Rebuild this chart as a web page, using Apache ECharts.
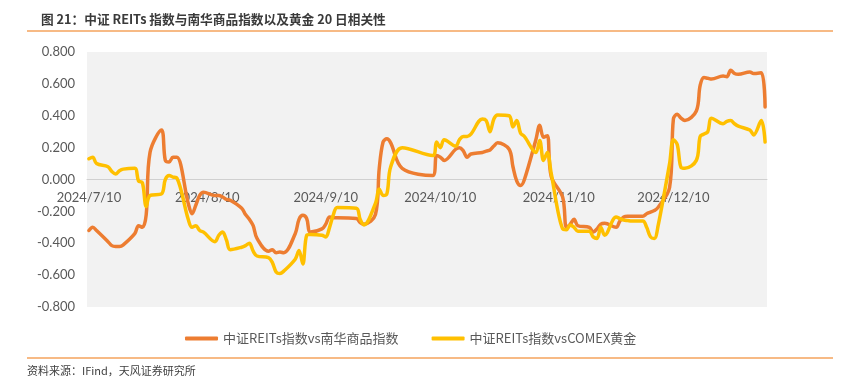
<!DOCTYPE html>
<html><head><meta charset="utf-8">
<script src="https://cdn.jsdelivr.net/npm/echarts@6/dist/echarts.min.js"></script>
<style>html,body{margin:0;padding:0;background:#fff;}#c{width:850px;height:382px;}</style>
</head><body><div id="c"></div>
<script>
const dates = [
'2024/7/10','2024/7/11','2024/7/12','2024/7/15','2024/7/16','2024/7/17','2024/7/18','2024/7/19','2024/7/22','2024/7/23','2024/7/24','2024/7/25','2024/7/26','2024/7/29','2024/7/30','2024/7/31',
'2024/8/1','2024/8/2','2024/8/5','2024/8/6','2024/8/7','2024/8/8','2024/8/9','2024/8/12','2024/8/13','2024/8/14','2024/8/15','2024/8/16','2024/8/19','2024/8/20','2024/8/21','2024/8/22','2024/8/23','2024/8/26','2024/8/27','2024/8/28','2024/8/29','2024/8/30',
'2024/9/2','2024/9/3','2024/9/4','2024/9/5','2024/9/6','2024/9/9','2024/9/10','2024/9/11','2024/9/12','2024/9/13','2024/9/18','2024/9/19','2024/9/20','2024/9/23','2024/9/24','2024/9/25','2024/9/26','2024/9/27','2024/9/30',
'2024/10/8','2024/10/9','2024/10/10','2024/10/11','2024/10/14','2024/10/15','2024/10/16','2024/10/17','2024/10/18','2024/10/21','2024/10/22','2024/10/23','2024/10/24','2024/10/25','2024/10/28','2024/10/29','2024/10/30','2024/10/31',
'2024/11/1','2024/11/4','2024/11/5','2024/11/6','2024/11/7','2024/11/8','2024/11/11','2024/11/12','2024/11/13','2024/11/14','2024/11/15','2024/11/18','2024/11/19','2024/11/20','2024/11/21','2024/11/22','2024/11/25','2024/11/26','2024/11/27','2024/11/28','2024/11/29',
'2024/12/2','2024/12/3','2024/12/4','2024/12/5','2024/12/6','2024/12/9','2024/12/10','2024/12/11','2024/12/12','2024/12/13','2024/12/16','2024/12/17','2024/12/18','2024/12/19','2024/12/20','2024/12/23','2024/12/24','2024/12/25','2024/12/26','2024/12/27','2024/12/30','2024/12/31',
'2025/1/2','2025/1/3'
];
const nanhua = [
-0.32,-0.30,-0.32,-0.39,-0.415,-0.42,-0.42,-0.41,-0.34,-0.29,-0.30,-0.22,0.17,0.31,0.12,0.11,
0.14,0.14,-0.15,-0.215,-0.16,-0.10,-0.08,-0.10,-0.10,-0.11,-0.125,-0.13,-0.18,-0.22,-0.25,-0.29,-0.37,-0.45,-0.44,-0.46,-0.455,-0.46,
-0.34,-0.25,-0.225,-0.245,-0.33,-0.31,-0.28,-0.235,-0.24,-0.24,-0.245,-0.27,-0.28,-0.22,0.07,0.235,0.255,0.23,0.07,
0.025,0.15,0.14,0.12,0.19,0.20,0.18,0.14,0.16,0.17,0.178,0.185,0.21,0.23,0.19,0.08,-0.01,-0.038,
0.0,0.25,0.34,0.265,0.275,0.02,-0.11,-0.30,-0.28,-0.25,-0.29,-0.30,-0.33,-0.31,-0.28,-0.275,-0.30,-0.26,-0.235,-0.23,-0.23,
-0.23,-0.215,-0.205,-0.195,-0.175,-0.05,0.38,0.41,0.385,0.37,0.43,0.59,0.64,0.635,0.63,0.65,0.645,0.685,0.665,0.66,0.675,0.665,
0.67,0.455
];
const comex = [
0.13,0.14,0.10,0.08,0.05,0.035,0.055,0.065,0.07,-0.01,-0.02,-0.17,-0.10,-0.09,0.0,0.025,
0.015,0.01,-0.25,-0.30,-0.29,-0.32,-0.33,-0.39,-0.35,-0.33,-0.38,-0.44,-0.425,-0.415,-0.40,-0.45,-0.48,-0.49,-0.52,-0.58,-0.59,-0.575,
-0.50,-0.445,-0.53,-0.35,-0.345,-0.35,-0.36,-0.30,-0.22,-0.175,-0.18,-0.25,-0.285,-0.15,-0.06,-0.10,-0.09,0.08,0.20,
0.15,0.235,0.20,0.25,0.21,0.25,0.27,0.27,0.285,0.38,0.37,0.30,0.38,0.405,0.40,0.33,0.37,0.29,
0.27,0.17,0.245,0.12,0.17,0.04,-0.31,-0.315,-0.285,-0.30,-0.325,-0.325,-0.36,-0.37,-0.30,-0.35,-0.235,-0.245,-0.255,-0.257,-0.26,
-0.26,-0.30,-0.36,-0.37,-0.29,0.10,0.25,0.22,0.075,0.07,0.12,0.27,0.285,0.30,0.385,0.35,0.365,0.37,0.35,0.335,0.31,0.28,
0.37,0.235
];
const xTickLabels = ['2024/7/10','2024/8/10','2024/9/10','2024/10/10','2024/11/10','2024/12/10'];
const seriesNames = ['中证REITs指数vs南华商品指数','中证REITs指数vsCOMEX黄金'];
const titleText = '图 21：中证 REITs 指数与南华商品指数以及黄金 20 日相关性';
const sourceText = '资料来源：IFind，天风证券研究所';

function ts(s){const p=s.split('/').map(Number);return new Date(p[0],p[1]-1,p[2]).getTime();}
const DAY = 86400000;
const xMin = ts(dates[0]) - DAY/2;
const xMax = ts(dates[dates.length-1]) + DAY/2;
const cjk = '"Noto Sans CJK SC", "Noto Sans", sans-serif';
const num = 'Lato, "Noto Sans", sans-serif';
const gridTop = 52, gridBottom = 75, chartH = 382;
const plotH = chartH - gridTop - gridBottom;
const yMin = -0.8, yMax = 0.8;
// shift the x axis so it sits on the value 0 of the y axis
const zeroOffset = -plotH * (0 - yMin) / (yMax - yMin);

const chart = echarts.init(document.getElementById('c'), null, {renderer:'canvas'});
chart.setOption({
  animation:false,
  backgroundColor:'#ffffff',
  title:{text:titleText,left:36,top:8,textStyle:{fontFamily:cjk,fontSize:12.7,fontWeight:'bold',color:'#3a3a3a'}},
  grid:{left:87,right:83,top:gridTop,bottom:gridBottom,show:true,backgroundColor:'#f2f2f2',borderWidth:0,containLabel:false},
  legend:{left:180,top:327,itemGap:33,itemWidth:33,itemHeight:4,icon:'roundRect',
    textStyle:{fontFamily:cjk,fontSize:13,color:'#595959'},
    data:seriesNames},
  xAxis:{type:'value',min:xMin,max:xMax,scale:true,offset:zeroOffset,
    axisLine:{show:true,onZero:false,lineStyle:{color:'#d0d0d0',width:1}},
    axisTick:{show:false},splitLine:{show:false},
    axisLabel:{customValues:xTickLabels.map(ts),color:'#595959',fontFamily:num,fontSize:13,margin:12,hideOverlap:false,
      showMinLabel:true,showMaxLabel:true,
      formatter:function(v){const d=new Date(v);return d.getFullYear()+'/'+(d.getMonth()+1)+'/'+d.getDate();}}},
  yAxis:{type:'value',min:yMin,max:yMax,interval:0.2,
    axisLine:{show:false,onZero:false},axisTick:{show:false},splitLine:{show:false},
    axisLabel:{color:'#595959',fontFamily:num,fontSize:13,margin:12,formatter:function(v){return v.toFixed(3);}}},
  series:[
    {name:seriesNames[0],type:'line',showSymbol:false,smooth:0.35,color:'#ED7D31',z:3,
     lineStyle:{width:3.5,color:'#ED7D31',cap:'round',join:'round'},
     data:dates.map((d,i)=>[ts(d),nanhua[i]])},
    {name:seriesNames[1],type:'line',showSymbol:false,smooth:0.35,color:'#FFC000',z:3,
     lineStyle:{width:3.5,color:'#FFC000',cap:'round',join:'round'},
     data:dates.map((d,i)=>[ts(d),comex[i]])}
  ],
  graphic:[
    {type:'line',shape:{x1:27,y1:31,x2:833,y2:31},style:{stroke:'#F5A35C',lineWidth:1.5}},
    {type:'line',shape:{x1:27,y1:358,x2:833,y2:358},style:{stroke:'#F5A35C',lineWidth:1.5}},
    {type:'text',left:27,top:365,style:{text:sourceText,fontFamily:cjk,fontSize:11,fill:'#404040'}}
  ]
});
</script></body></html>
